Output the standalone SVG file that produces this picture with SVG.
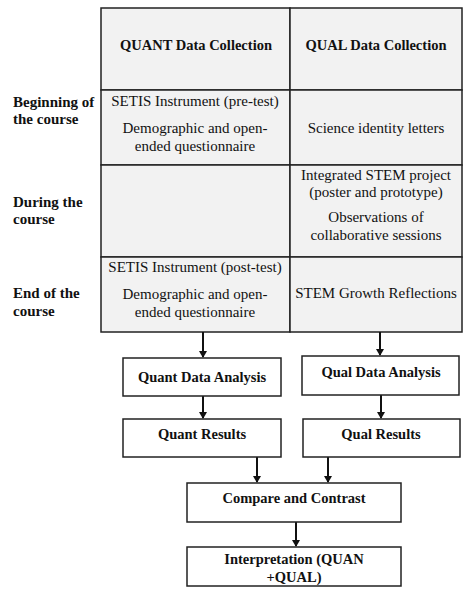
<svg xmlns="http://www.w3.org/2000/svg" width="474" height="600" viewBox="0 0 474 600">
<style>
text{font-family:"Liberation Serif","Times New Roman",serif;font-size:15px;fill:#111}
.b{font-weight:bold;font-size:14.5px}
.rl{font-weight:bold;font-size:15px}
.c{text-anchor:middle}
.cell{fill:#f2f2f2;stroke:#222;stroke-width:1.5}
.box{fill:#fff;stroke:#222;stroke-width:1.5}
.con{stroke:#111;stroke-width:2;fill:none;marker-end:url(#ah)}
</style>
<defs>
<marker id="ah" markerWidth="8" markerHeight="8" refX="6" refY="4" orient="auto" markerUnits="userSpaceOnUse">
<path d="M0,0 L7,4 L0,8 Z" fill="#111"/>
</marker>
</defs>
<rect width="474" height="600" fill="#fff"/>
<g id="table">
<rect class="cell" x="101" y="8" width="189" height="82"/>
<rect class="cell" x="290" y="8" width="172" height="82"/>
<rect class="cell" x="101" y="90" width="189" height="75"/>
<rect class="cell" x="290" y="90" width="172" height="75"/>
<rect class="cell" x="101" y="165" width="189" height="92"/>
<rect class="cell" x="290" y="165" width="172" height="92"/>
<rect class="cell" x="101" y="257" width="189" height="75"/>
<rect class="cell" x="290" y="257" width="172" height="75"/>
<text class="b c" x="196" y="50">QUANT Data Collection</text>
<text class="b c" x="376" y="50">QUAL Data Collection</text>
<text class="c" x="195" y="106">SETIS Instrument (pre-test)</text>
<text class="c" x="195" y="133">Demographic and open-</text>
<text class="c" x="195" y="151">ended questionnaire</text>
<text class="c" x="376" y="133">Science identity letters</text>
<text class="c" x="376" y="180">Integrated STEM project</text>
<text class="c" x="376" y="197">(poster and prototype)</text>
<text class="c" x="376" y="222">Observations of</text>
<text class="c" x="376" y="240">collaborative sessions</text>
<text class="c" x="195" y="272">SETIS Instrument (post-test)</text>
<text class="c" x="195" y="299">Demographic and open-</text>
<text class="c" x="195" y="317">ended questionnaire</text>
<text class="c" x="376" y="298">STEM Growth Reflections</text>
</g>
<g id="row-labels">
<text class="rl" x="13" y="107">Beginning of</text>
<text class="rl" x="13" y="124">the course</text>
<text class="rl" x="13" y="207">During the</text>
<text class="rl" x="13" y="224">course</text>
<text class="rl" x="13" y="298">End of the</text>
<text class="rl" x="13" y="316">course</text>
</g>
<g id="connectors">
<line class="con" x1="203" y1="332" x2="203" y2="357"/>
<line class="con" x1="380" y1="332" x2="380" y2="355"/>
<line class="con" x1="203" y1="396" x2="203" y2="418"/>
<line class="con" x1="381" y1="395" x2="381" y2="418"/>
<line class="con" x1="257" y1="457" x2="257" y2="482"/>
<line class="con" x1="328" y1="457" x2="328" y2="482"/>
<line class="con" x1="296" y1="522" x2="296" y2="546"/>
</g>
<g id="quant-analysis">
<rect class="box" x="123" y="358" width="158" height="38"/>
<text class="b c" x="202" y="382">Quant Data Analysis</text>
</g>
<g id="qual-analysis">
<rect class="box" x="302" y="356" width="157" height="39"/>
<text class="b c" x="381" y="377">Qual Data Analysis</text>
</g>
<g id="quant-results">
<rect class="box" x="123" y="419" width="158" height="38"/>
<text class="b c" x="202" y="439">Quant Results</text>
</g>
<g id="qual-results">
<rect class="box" x="303" y="419" width="157" height="38"/>
<text class="b c" x="381" y="439">Qual Results</text>
</g>
<g id="compare">
<rect class="box" x="187" y="483" width="214" height="39"/>
<text class="b c" x="294" y="503">Compare and Contrast</text>
</g>
<g id="interpretation">
<rect class="box" x="187" y="547" width="214" height="39"/>
<text class="b c" x="294" y="564">Interpretation (QUAN</text>
<text class="b c" x="294" y="582">+QUAL)</text>
</g>
</svg>
